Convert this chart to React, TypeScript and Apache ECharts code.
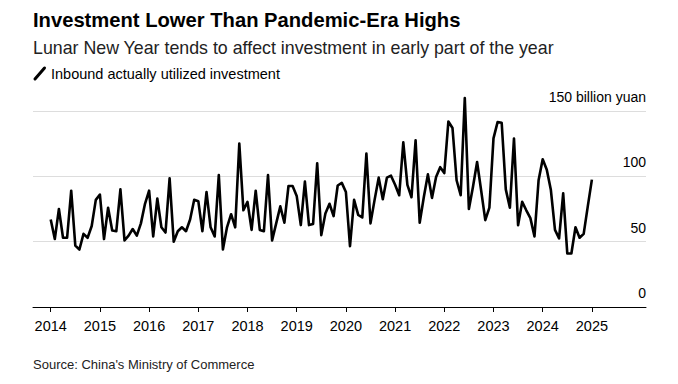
import React, { useEffect, useRef } from "react";
import * as echarts from "echarts";

// Monthly inbound actually utilized investment, billion yuan (Jan..Dec)
const v2014 = [67, 52, 75, 53, 53, 89, 47, 44, 56, 53, 62, 82];
const v2015 = [86, 52, 76, 58.5, 58, 90, 51, 54.6, 59.7, 54.6, 64, 79];
const v2016 = [89, 54, 83, 61, 57, 98.5, 50, 58, 61, 58, 67, 82];
const v2017 = [81, 58, 88, 61, 54, 101, 44, 61, 71, 61, 125, 74];
const v2018 = [80.5, 59, 89, 59, 58, 101, 51, 64, 77, 64.5, 92.6, 92.6];
const v2019 = [85, 62.7, 96, 62.7, 63.5, 110, 55, 71.6, 79, 69.6, 93, 95];
const v2020 = [88, 46.5, 82, 70.5, 68.5, 117.5, 64, 82, 99, 82.5, 99, 100.5];
const v2021 = [93.5, 85.5, 126, 93.5, 84, 127.5, 64.5, 84, 101.5, 83.5, 99.5, 107];
const v2022 = [102.5, 142, 137, 97, 85.5, 160, 75, 92, 111, 89, 66.5, 76];
const v2023 = [129, 141.5, 141, 90, 76, 129, 62.6, 80.5, 74, 68, 54, 97];
const v2024 = [113, 105, 89.5, 59, 52.5, 87, 41, 41, 61, 53, 56, 77];
const v2025 = [97.5];

const yearly = [v2014, v2015, v2016, v2017, v2018, v2019, v2020, v2021, v2022, v2023, v2024, v2025];
const firstYear = 2014;
const yearTicks = [2014, 2015, 2016, 2017, 2018, 2019, 2020, 2021, 2022, 2023, 2024, 2025];
const yTicks = [0, 50, 100, 150];

const FONT = '"Liberation Sans", Arial, sans-serif';

export default function App() {
  const ref = useRef<HTMLDivElement>(null);

  useEffect(() => {
    if (!ref.current) return;
    const chart = echarts.init(ref.current, undefined, { renderer: "svg" });

    const data: [number, number][] = [];
    yearly.forEach((arr, yi) => {
      arr.forEach((v, mi) => {
        data.push([firstYear + yi + mi / 12, v]);
      });
    });

    chart.setOption({
      animation: false,
      backgroundColor: "#ffffff",
      textStyle: { fontFamily: FONT },
      title: [
        {
          text: "Investment Lower Than Pandemic-Era Highs",
          left: 33,
          top: 10,
          padding: 0,
          textStyle: { fontFamily: FONT, fontSize: 20.2, fontWeight: "bold", color: "#000" },
        },
        {
          text: "Lunar New Year tends to affect investment in early part of the year",
          left: 33,
          top: 39,
          padding: 0,
          textStyle: { fontFamily: FONT, fontSize: 17.8, fontWeight: "normal", color: "#222" },
        },
        {
          text: "Inbound actually utilized investment",
          left: 51,
          top: 66,
          padding: 0,
          textStyle: { fontFamily: FONT, fontSize: 14.5, fontWeight: "normal", color: "#000" },
        },
        {
          text: "Source: China's Ministry of Commerce",
          left: 33,
          top: 358,
          padding: 0,
          textStyle: { fontFamily: FONT, fontSize: 13, fontWeight: "normal", color: "#222" },
        },
      ],
      graphic: [
        {
          type: "line",
          shape: { x1: 35, y1: 79, x2: 44.5, y2: 68 },
          style: { stroke: "#000", lineWidth: 3, lineCap: "round" },
        },
      ],
      grid: { left: 33, right: 32, top: 111, bottom: 77, containLabel: false },
      xAxis: {
        type: "value",
        min: 2013.64,
        max: 2026.1,
        axisLine: { show: true, lineStyle: { color: "#000", width: 1 } },
        axisTick: {
          show: true,
          length: 5,
          lineStyle: { color: "#000" },
          customValues: yearTicks,
        },
        axisLabel: {
          customValues: yearTicks,
          margin: 11,
          fontSize: 14.5,
          color: "#000",
          fontFamily: FONT,
          formatter: (v: number) => String(Math.round(v)),
        },
        splitLine: { show: false },
      },
      yAxis: {
        type: "value",
        position: "right",
        min: 0,
        max: 150,
        interval: 50,
        axisLine: { show: false },
        axisTick: { show: false },
        splitLine: { show: true, lineStyle: { color: "#dddddd", width: 1 } },
        axisLabel: {
          inside: true,
          margin: 0,
          align: "right",
          verticalAlign: "bottom",
          padding: [0, 0, 7, 0],
          fontSize: 14,
          color: "#000",
          fontFamily: FONT,
          customValues: yTicks,
          formatter: (v: number) => (v === 150 ? "150 billion yuan" : String(v)),
        },
      },
      series: [
        {
          type: "line",
          data,
          clip: false,
          showSymbol: false,
          symbol: "none",
          lineStyle: { color: "#000", width: 2.6, join: "round" },
          silent: true,
        },
      ],
    });

    return () => chart.dispose();
  }, []);

  return (
    <div
      ref={ref}
      style={{ position: "fixed", left: 0, top: 0, width: 678, height: 384 }}
    />
  );
}
